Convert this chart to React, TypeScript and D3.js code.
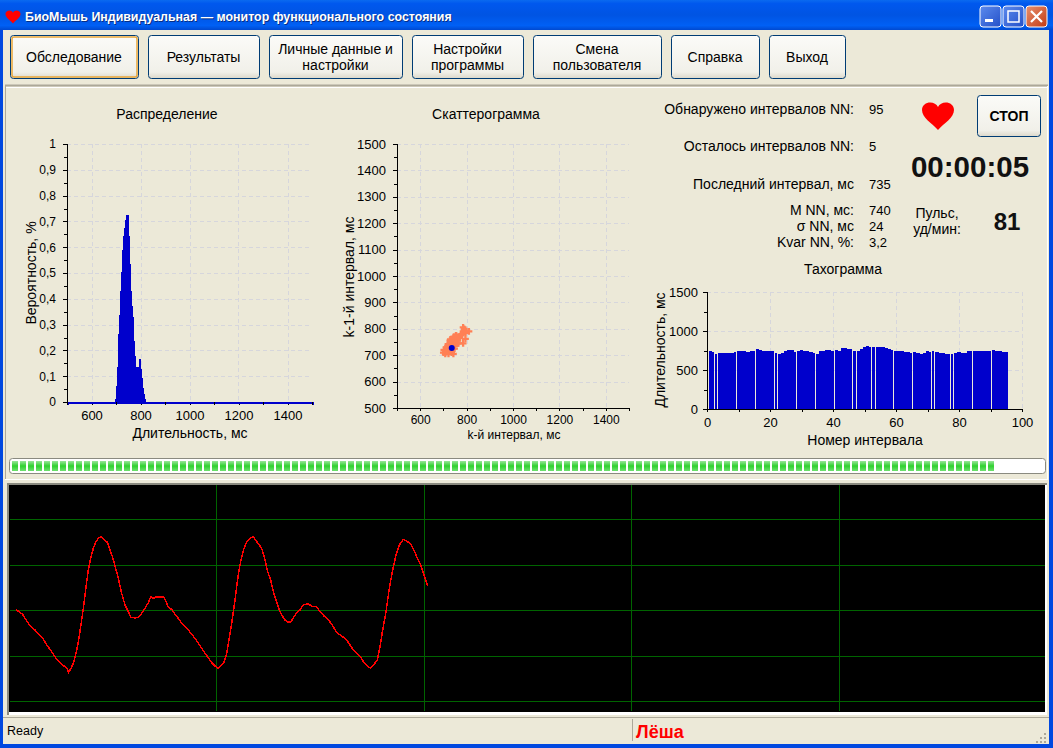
import { useEffect, useRef } from "react";
import * as d3 from "d3";

// window text
const titleText = "БиоМышь Индивидуальная — монитор функционального состояния";
const buttonLabels = [["Обследование"], ["Результаты"], ["Личные данные и", "настройки"], ["Настройки", "программы"], ["Смена", "пользователя"], ["Справка"], ["Выход"]];
const buttonEdges = [[10, 138], [148, 259], [269, 402], [412, 523], [533, 661], [671, 759], [769, 845]];

// histogram, bins 4 ms wide starting at 696 ms
const histStart = 696;
const histProb = [0.012, 0.063, 0.136, 0.264, 0.339, 0.432, 0.505, 0.59, 0.645, 0.676, 0.707, 0.726, 0.726, 0.645, 0.536, 0.429, 0.371, 0.329, 0.235, 0.177, 0.137, 0.137, 0.137, 0.137, 0.168, 0.128, 0.094, 0.063, 0.054, 0.032, 0.013];

// scattergram
const scatterK = [702, 708, 712, 715, 718, 722, 725, 728, 730, 735, 735, 738, 742, 745, 745, 750, 750, 755, 760, 760, 765, 743, 775, 785, 790, 795, 810, 785, 795, 700, 712, 720, 730, 745, 755, 785, 795, 765, 708, 716, 724, 732, 740, 748, 756, 728, 736, 744, 752, 720, 730, 738, 746, 754, 762, 770, 780, 790];
const scatterK1 = [720, 705, 712, 725, 735, 705, 720, 745, 730, 710, 740, 755, 725, 745, 765, 735, 755, 770, 745, 760, 770, 705, 775, 790, 800, 785, 790, 745, 762, 710, 730, 727, 760, 770, 775, 805, 790, 745, 715, 715, 730, 720, 735, 725, 745, 755, 750, 755, 765, 742, 715, 730, 735, 775, 755, 765, 780, 792];
const lastK = 736;
const lastK1 = 727;

// tachogram
const tachoValues = [745, 730, 710, 720, 722, 722, 722, 722, 735, 748, 748, 748, 725, 740, 750, 770, 760, 745, 740, 740, 740, 722, 710, 722, 745, 760, 760, 735, 750, 760, 750, 745, 730, 720, 700, 745, 745, 760, 760, 745, 760, 750, 785, 780, 770, 770, 745, 745, 770, 795, 810, 800, 795, 795, 795, 795, 785, 775, 760, 745, 740, 740, 725, 735, 722, 735, 720, 710, 722, 745, 735, 745, 735, 720, 722, 710, 710, 710, 722, 730, 722, 722, 740, 740, 745, 745, 740, 740, 740, 745, 760, 750, 745, 735, 735];
const tachoSlits = [2, 3, 9, 15, 21, 22, 28, 34, 40, 46, 47, 52, 53, 59, 65, 71, 72, 77, 78, 84, 90];

// pulse wave
const waveSample = [48, 60, 68, 75, 85, 95, 105, 118, 130, 140, 150, 160, 170, 180, 190, 200, 206, 213, 220, 228, 235, 242, 250, 258, 265, 272, 280, 288, 296, 303, 312, 322, 330, 338, 346, 355, 365, 375, 385, 393, 405, 415, 425, 435, 445, 452, 460, 470, 480, 490, 497, 505, 515, 525, 535, 545, 555, 565, 575, 585, 595, 605, 615, 625, 635, 645, 655, 665, 673, 680, 687, 695, 703, 710, 717, 724, 732, 740, 750, 760, 768, 778, 787, 795, 803, 812, 820, 830, 838, 847, 855, 865, 873, 882, 890, 900, 910, 925, 938, 950, 960, 972, 985, 997, 1010, 1025, 1040, 1050, 1060, 1070, 1082, 1092, 1105, 1112, 1122, 1132, 1140, 1148, 1158, 1168, 1178, 1188, 1198, 1210, 1220, 1232, 1244, 1252, 1262, 1270, 1277, 1283];
const waveLevel = [312, 302, 297, 285, 270, 257, 250, 235, 223, 205, 192, 177, 162, 153, 143, 137, 123, 135, 150, 180, 215, 260, 315, 380, 430, 465, 495, 515, 526, 530, 522, 513, 490, 468, 438, 405, 360, 325, 305, 288, 286, 288, 300, 315, 332, 350, 345, 350, 348, 350, 338, 318, 312, 297, 285, 270, 260, 250, 237, 225, 210, 195, 180, 167, 152, 142, 135, 145, 155, 180, 220, 270, 325, 380, 430, 465, 495, 515, 525, 530, 518, 505, 490, 460, 425, 400, 365, 335, 310, 292, 280, 273, 275, 290, 302, 310, 326, 328, 320, 320, 305, 292, 280, 265, 242, 232, 220, 205, 190, 180, 168, 152, 140, 135, 147, 160, 200, 250, 305, 375, 430, 475, 505, 522, 517, 508, 485, 465, 445, 420, 400, 383];
const waveGridLevels = [582, 444, 309, 171, 36];
const waveGridSamples = [649, 1273, 1893, 2517];

// readouts
const readoutLabels = ["Обнаружено интервалов NN:", "Осталось интервалов NN:", "Последний интервал, мс", "M NN, мс:", "σ NN, мс", "Kvar NN, %:"];
const readoutValues = ["95", "5", "735", "740", "24", "3,2"];
const readoutRows = [109, 146, 184, 210, 226, 242];
const progressPercent = 95;

const FONT = "'Liberation Sans', Arial, sans-serif";
const BG = "#ece9d8";
const BLUE = "#0000cc";
const HEART = "M0,-5 C-3,-12 -16,-11 -16,-2 C-16,6 -6,11 0,18 C6,11 16,6 16,-2 C16,-11 3,-12 0,-5 Z";

type Sel = d3.Selection<SVGGElement, unknown, null, undefined>;

interface FrameOpts {
  xMajor: number[];
  xMinor: number[];
  yMajor: number[];
  yMinor: number[];
  yFormat: (d: number) => string;
  xDomainColor: string;
  xGap: number; // distance from axis to bottom labels
  yGap: number; // distance from axis to left labels
  xFont: number;
  yFont: number;
}

function drawFrame(g: Sel, x: d3.ScaleLinear<number, number>, y: d3.ScaleLinear<number, number>, o: FrameOpts) {
  const [left, right] = x.range();
  const [bottom, top] = y.range();

  // dashed grid
  const grid = g.append("g");
  grid.selectAll(".gx")
    .data(o.xMajor.filter((d) => d !== x.domain()[0]))
    .enter()
    .append("line")
    .attr("x1", (d) => Math.round(x(d)) + 0.5)
    .attr("x2", (d) => Math.round(x(d)) + 0.5)
    .attr("y1", top)
    .attr("y2", bottom);
  grid.selectAll(".gy")
    .data(o.yMajor.filter((d) => d !== y.domain()[0]))
    .enter()
    .append("line")
    .attr("x1", left)
    .attr("x2", right)
    .attr("y1", (d) => Math.round(y(d)) + 0.5)
    .attr("y2", (d) => Math.round(y(d)) + 0.5);
  grid.selectAll("line")
    .attr("stroke", "#d6d6dc")
    .attr("stroke-dasharray", "4 3")
    .attr("shape-rendering", "crispEdges");

  const bottomAxis = g.append("g").attr("transform", `translate(0,${bottom})`);
  bottomAxis.call(d3.axisBottom(x).tickValues(o.xMajor).tickSize(3).tickPadding(o.xGap - 3).tickFormat((d) => String(d)));
  bottomAxis.append("g").call(d3.axisBottom(x).tickValues(o.xMinor).tickSize(3).tickFormat(() => ""));
  bottomAxis.selectAll(".domain").attr("stroke", o.xDomainColor).attr("stroke-width", o.xDomainColor === "#000" ? 1 : 2);
  bottomAxis.selectAll(".tick text").attr("font-size", o.xFont);

  const leftAxis = g.append("g").attr("transform", `translate(${left},0)`);
  leftAxis.call(d3.axisLeft(y).tickValues(o.yMajor).tickSize(4).tickPadding(o.yGap - 4).tickFormat((d) => o.yFormat(+d)));
  leftAxis.append("g").call(d3.axisLeft(y).tickValues(o.yMinor).tickSize(3).tickFormat(() => ""));
  leftAxis.selectAll(".tick text").attr("font-size", o.yFont);

  g.selectAll(".tick line").attr("stroke", "#000").attr("shape-rendering", "crispEdges");
  g.selectAll(".domain").attr("shape-rendering", "crispEdges");
  g.selectAll(".tick text").attr("font-family", FONT).attr("fill", "#000");
}

export default function App() {
  const chartRef = useRef<SVGGElement>(null);

  useEffect(() => {
    if (!chartRef.current) return;
    const root = d3.select(chartRef.current);
    root.selectAll("*").remove();

    // Histogram
    const hx = d3.scaleLinear().domain([500, 1500]).range([67, 312]);
    const hy = d3.scaleLinear().domain([0, 1]).range([402, 144]);
    const hist = root.append("g");
    drawFrame(hist, hx, hy, {
      xMajor: d3.range(600, 1401, 200),
      xMinor: d3.range(500, 1501, 200),
      yMajor: d3.range(0, 1.01, 0.1).map((d) => +d.toFixed(1)),
      yMinor: d3.range(0.05, 1, 0.1),
      yFormat: (d) => String(d).replace(".", ","),
      xDomainColor: BLUE,
      xGap: 9,
      yGap: 11,
      xFont: 13,
      yFont: 12,
    });
    hist.append("g")
      .selectAll("rect")
      .data(histProb)
      .enter()
      .append("rect")
      .attr("x", (_, i) => Math.round(hx(histStart + i * 4)))
      .attr("width", 1.5)
      .attr("y", (d) => hy(d))
      .attr("height", (d) => hy(0) - hy(d))
      .attr("fill", BLUE)
      .attr("shape-rendering", "crispEdges");

    // Scattergram
    const sx = d3.scaleLinear().domain([500, 1500]).range([397, 629]);
    const sy = d3.scaleLinear().domain([500, 1500]).range([408, 144]);
    const scatter = root.append("g");
    drawFrame(scatter, sx, sy, {
      xMajor: d3.range(600, 1401, 200),
      xMinor: d3.range(500, 1501, 200),
      yMajor: d3.range(500, 1501, 100),
      yMinor: d3.range(550, 1500, 100),
      yFormat: (d) => String(d),
      xDomainColor: "#000",
      xGap: 7,
      yGap: 11,
      xFont: 12,
      yFont: 13,
    });
    const cross = d3.symbol().type(d3.symbolCross).size(26);
    scatter.append("g")
      .selectAll("path")
      .data(scatterK)
      .enter()
      .append("path")
      .attr("d", cross)
      .attr("transform", (d, i) => `translate(${sx(d)},${sy(scatterK1[i])})`)
      .attr("fill", "#ff8055");
    scatter.append("circle")
      .attr("cx", sx(lastK))
      .attr("cy", sy(lastK1))
      .attr("r", 3)
      .attr("fill", BLUE);

    // Tachogram
    const tx = d3.scaleLinear().domain([0, 100]).range([707, 1022]);
    const ty = d3.scaleLinear().domain([0, 1500]).range([409, 292]);
    const tacho = root.append("g");
    drawFrame(tacho, tx, ty, {
      xMajor: d3.range(0, 101, 20),
      xMinor: d3.range(10, 100, 20),
      yMajor: [0, 500, 1000, 1500],
      yMinor: [250, 750, 1250],
      yFormat: (d) => String(d),
      xDomainColor: "#000",
      xGap: 9,
      yGap: 9,
      xFont: 13,
      yFont: 13,
    });
    tacho.append("g")
      .selectAll("rect")
      .data(tachoValues)
      .enter()
      .append("rect")
      .attr("x", (_, i) => Math.round(tx(i + 0.5)))
      .attr("width", (_, i) => {
        const end = Math.round(tx(i + 1.5)) - Math.round(tx(i + 0.5));
        return tachoSlits.includes(i + 1) ? end - 1 : end;
      })
      .attr("y", (d) => Math.round(ty(d)))
      .attr("height", (d) => ty(0) - Math.round(ty(d)))
      .attr("fill", BLUE)
      .attr("shape-rendering", "crispEdges");

    // Pulse wave monitor
    const wx = d3.scaleLinear().domain([0, 3159]).range([0, 1053]);
    const wy = d3.scaleLinear().domain([0, 700]).range([713.3, 480]);
    const wave = root.append("g");
    wave.selectAll(".h")
      .data(waveGridLevels)
      .enter()
      .append("line")
      .attr("x1", 10)
      .attr("x2", 1045)
      .attr("y1", (d) => Math.round(wy(d)))
      .attr("y2", (d) => Math.round(wy(d)))
      .attr("stroke", "#006400")
      .attr("shape-rendering", "crispEdges");
    wave.selectAll(".v")
      .data(waveGridSamples)
      .enter()
      .append("line")
      .attr("x1", (d) => Math.round(wx(d)))
      .attr("x2", (d) => Math.round(wx(d)))
      .attr("y1", 485)
      .attr("y2", 711)
      .attr("stroke", "#006400")
      .attr("shape-rendering", "crispEdges");
    const line = d3
      .line<number>()
      .x((d) => wx(d))
      .y((_, i) => wy(waveLevel[i]));
    wave.append("path")
      .attr("d", line(waveSample))
      .attr("fill", "none")
      .attr("stroke", "#ff0000")
      .attr("stroke-width", 1.5)
      .attr("shape-rendering", "crispEdges");
  }, []);

  const segments = d3.range(Math.floor(((progressPercent / 100) * 1037) / 8));

  return (
    <svg
      width={1053}
      height={748}
      style={{ position: "absolute", left: 0, top: 0, display: "block" }}
      fontFamily={FONT}
    >
      <defs>
        <linearGradient id="title" x1="0" x2="0" y1="0" y2="1">
          <stop offset="0" stopColor="#0a6af0" />
          <stop offset="0.12" stopColor="#0058ee" />
          <stop offset="0.5" stopColor="#0054e3" />
          <stop offset="0.85" stopColor="#0060f5" />
          <stop offset="1" stopColor="#0049d0" />
        </linearGradient>
        <linearGradient id="btn" x1="0" x2="0" y1="0" y2="1">
          <stop offset="0" stopColor="#fbfbf8" />
          <stop offset="0.85" stopColor="#f1f0e9" />
          <stop offset="1" stopColor="#dcd8ca" />
        </linearGradient>
        <linearGradient id="seg" x1="0" x2="0" y1="0" y2="1">
          <stop offset="0" stopColor="#9be59b" />
          <stop offset="0.5" stopColor="#2fd12f" />
          <stop offset="1" stopColor="#6fe06f" />
        </linearGradient>
        <linearGradient id="close" x1="0" x2="1" y1="0" y2="1">
          <stop offset="0" stopColor="#e8916e" />
          <stop offset="1" stopColor="#c23a14" />
        </linearGradient>
        <linearGradient id="ctl" x1="0" x2="1" y1="0" y2="1">
          <stop offset="0" stopColor="#5c8bee" />
          <stop offset="1" stopColor="#2450c8" />
        </linearGradient>
      </defs>

      {/* window */}
      <rect width={1053} height={748} fill="#0048e0" />
      <rect width={1053} height={30} fill="url(#title)" />
      <rect x={3} y={30} width={1046} height={714} fill={BG} />
      <path d={HEART} transform="translate(13,15) scale(0.47)" fill="#ff0000" />
      <text x={26} y={22} fontSize={12.4} fontWeight="bold" fill="#0a246a" opacity={0.8}>{titleText}</text>
      <text x={25} y={21} fontSize={12.4} fontWeight="bold" fill="#fff">{titleText}</text>
      <rect x={980} y={6} width={21} height={21} rx={3} fill="url(#ctl)" stroke="#fff" />
      <rect x={985} y={19} width={8} height={3} fill="#fff" />
      <rect x={1003} y={6} width={21} height={21} rx={3} fill="url(#ctl)" stroke="#fff" />
      <rect x={1008} y={11} width={11} height={11} fill="none" stroke="#fff" strokeWidth={1.5} />
      <rect x={1026} y={6} width={21} height={21} rx={3} fill="url(#close)" stroke="#fff" />
      <path d="M1031,11 L1042,22 M1042,11 L1031,22" stroke="#fff" strokeWidth={2.2} />

      {/* toolbar */}
      {buttonLabels.map((lines, i) => {
        const [x0, x1] = buttonEdges[i];
        const cy = 57;
        return (
          <g key={i}>
            <rect x={x0 + 0.5} y={35.5} width={x1 - x0} height={43} rx={3} fill="url(#btn)" stroke="#003c74" />
            {i === 0 && (
              <rect x={x0 + 2} y={37} width={x1 - x0 - 3} height={40} rx={2} fill="none" stroke="#e9a63a" strokeWidth={1.5} />
            )}
            {lines.map((t, j) => (
              <text key={j} x={(x0 + x1) / 2} y={cy + 5 + (j - (lines.length - 1) / 2) * 16} textAnchor="middle" fontSize={14}>
                {t}
              </text>
            ))}
          </g>
        );
      })}

      {/* panels */}
      <line x1={5} x2={1048} y1={85.5} y2={85.5} stroke="#aca899" strokeWidth={2} />
      <line x1={5} x2={1048} y1={87.5} y2={87.5} stroke="#fff" />
      <line x1={5.5} x2={5.5} y1={86} y2={480} stroke="#aca899" />
      <line x1={1047.5} x2={1047.5} y1={86} y2={480} stroke="#fff" />
      <line x1={5} x2={1048} y1={479.5} y2={479.5} stroke="#fff" />

      {/* chart titles and axis labels */}
      <g fontSize={14} textAnchor="middle">
        <text x={167} y={119}>Распределение</text>
        <text x={486} y={119}>Скаттерограмма</text>
        <text x={843} y={274}>Тахограмма</text>
        <text x={190} y={438}>Длительность, мс</text>
        <text x={865} y={445}>Номер интервала</text>
        <text transform="translate(36,273) rotate(-90)">Вероятность, %</text>
        <text transform="translate(354,277) rotate(-90)">k-1-й интервал, мс</text>
        <text transform="translate(665,350) rotate(-90)">Длительность, мс</text>
        <text x={514} y={439} fontSize={12}>k-й интервал, мс</text>
      </g>

      {/* readouts */}
      <g fontSize={14}>
        {readoutLabels.map((t, i) => (
          <text key={t} x={854} y={readoutRows[i] + 5} textAnchor="end">{t}</text>
        ))}
      </g>
      <g fontSize={13}>
        {readoutValues.map((t, i) => (
          <text key={t} x={869} y={readoutRows[i] + 5}>{t}</text>
        ))}
      </g>
      <path d={HEART} transform="translate(938,112)" fill="#ff0000" />
      <rect x={977.5} y={95.5} width={63} height={41} rx={3} fill="url(#btn)" stroke="#003c74" />
      <text x={1009} y={121} textAnchor="middle" fontSize={14} fontWeight="bold">СТОП</text>
      <text x={970} y={177} textAnchor="middle" fontSize={29.5} fontWeight="bold" fill="#111">00:00:05</text>
      <text x={937} y={218} textAnchor="middle" fontSize={14}>Пульс,</text>
      <text x={937} y={234} textAnchor="middle" fontSize={14}>уд/мин:</text>
      <text x={1007} y={230} textAnchor="middle" fontSize={24} fontWeight="bold" fill="#111">81</text>

      {/* progress bar */}
      <rect x={9.5} y={458.5} width={1036} height={15} rx={3} fill="#fff" stroke="#8a8a80" />
      {segments.map((s) => (
        <rect key={s} x={12 + s * 8} y={461} width={6} height={10} fill="url(#seg)" />
      ))}

      {/* monitor */}
      <rect x={7} y={483} width={1040} height={232} fill="#fff" />
      <rect x={7} y={483} width={1040} height={2} fill="#8a8a80" />
      <rect x={7} y={483} width={2} height={232} fill="#8a8a80" />
      <rect x={9} y={485} width={1036} height={227} fill="#000" />

      <g ref={chartRef} />

      {/* status bar */}
      <line x1={3} x2={1049} y1={717.5} y2={717.5} stroke="#aca899" />
      <text x={7} y={735} fontSize={12.5}>Ready</text>
      <line x1={632.5} x2={632.5} y1={719} y2={741} stroke="#aca899" />
      <text x={636} y={738} fontSize={18} fontWeight="bold" fill="#ff0000">Лёша</text>
      <g fill="#aca899">
        {d3.range(3).map((r) =>
          d3.range(r + 1).map((c) => (
            <rect key={`${r}${c}`} x={1044 - c * 4} y={733 + r * 4} width={2} height={2} />
          ))
        )}
      </g>
    </svg>
  );
}
